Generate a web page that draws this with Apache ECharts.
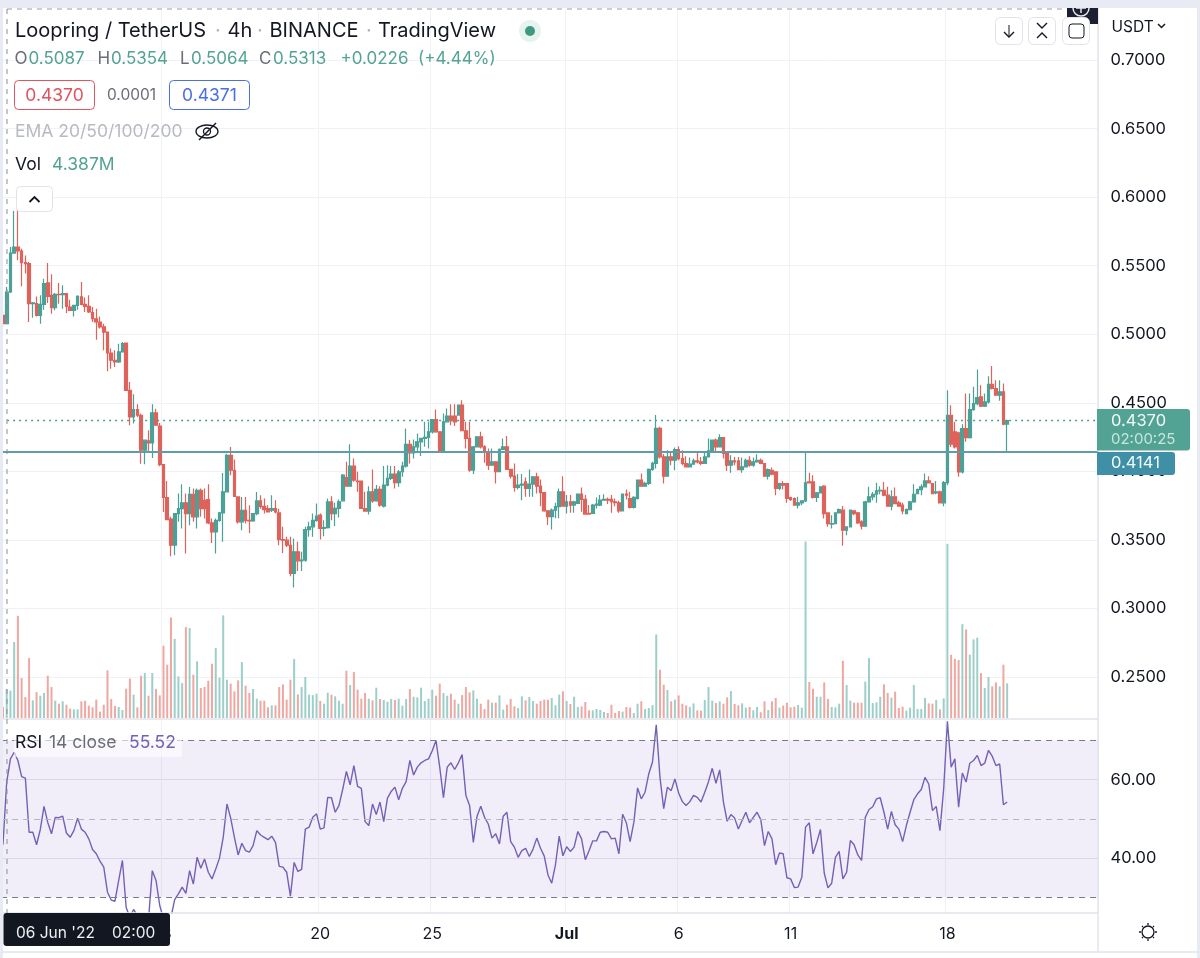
<!DOCTYPE html>
<html>
<head>
<meta charset="utf-8">
<title>Loopring / TetherUS</title>
<style>
  html, body { margin: 0; padding: 0; background: #fff; }
  #chart { width: 1200px; height: 958px; }
</style>
<script src="https://cdn.jsdelivr.net/npm/echarts@6/dist/echarts.min.js"></script>
</head>
<body>
<div id="chart"></div>
<script>
// 4h candles
const opens = [
  .5138,.5077,.5308,.5592,.5636,.5607,.5522,.5515,.5223,.5223,
  .5138,.5218,.5374,.5284,.5194,.5291,.5288,.5296,.5198,.5174,
  .5211,.5272,.5218,.5203,.5157,.5113,.5089,.5053,.5016,.4863,
  .4810,.4798,.4871,.4936,.4591,.4397,.4450,.4409,.4154,.4222,
  .4207,.4426,.4329,.4049,.3809,.3652,.3461,.3692,.3728,.3770,
  .3692,.3833,.3668,.3862,.3789,.3794,.3624,.3558,.3643,.3697,
  .3850,.4117,.4008,.3813,.3632,.3716,.3643,.3638,.3692,.3784,
  .3745,.3728,.3716,.3728,.3697,.3502,.3498,.3461,.3255,.3413,
  .3347,.3352,.3575,.3595,.3643,.3680,.3583,.3590,.3777,.3692,
  .3730,.3785,.3955,.3892,.4038,.3929,.3929,.3729,.3710,.3851,
  .3785,.3868,.3746,.3900,.3948,.3980,.3917,.3997,.4038,.4196,
  .4135,.4179,.4215,.4240,.4247,.4288,.4378,.4288,.4147,.4361,
  .4403,.4403,.4410,.4483,.4296,.4240,.4009,.4179,.4252,.4179,
  .4135,.4045,.4070,.3997,.4160,.4179,.4014,.3965,.3883,.3900,
  .3924,.3875,.3907,.3960,.3892,.3844,.3712,.3669,.3717,.3742,
  .3851,.3746,.3778,.3754,.3766,.3834,.3795,.3693,.3693,.3754,
  .3754,.3790,.3795,.3795,.3778,.3771,.3712,.3834,.3802,.3737,
  .3802,.3936,.3892,.3912,.4014,.4058,.4313,.4106,.3965,.4105,
  .4081,.4159,.4093,.4057,.4033,.4052,.4076,.4069,.4057,.4105,
  .4149,.4227,.4178,.4246,.4130,.4045,.4076,.4076,.4013,.4033,
  .4081,.4045,.4069,.4081,.4057,.3965,.4008,.3996,.3875,.3911,
  .3911,.3809,.3802,.3753,.3770,.3785,.3923,.3923,.3809,.3843,
  .3892,.3697,.3615,.3619,.3697,.3717,.3571,.3595,.3712,.3697,
  .3632,.3600,.3777,.3814,.3833,.3858,.3862,.3826,.3746,.3814,
  .3770,.3753,.3692,.3721,.3777,.3838,.3867,.3887,.3930,.3911,
  .3843,.3850,.3770,.3918,.4409,.4288,.4280,.3996,.4312,.4246,
  .4450,.4494,.4543,.4475,.4506,.4635,.4604,.4555,.4579,.4344
];
const closes = [
  .5077,.5308,.5592,.5636,.5607,.5522,.5515,.5223,.5228,.5138,
  .5218,.5369,.5276,.5194,.5291,.5288,.5296,.5203,.5174,.5211,
  .5276,.5218,.5203,.5162,.5113,.5089,.5053,.5016,.4863,.4810,
  .4798,.4871,.4931,.4591,.4397,.4450,.4409,.4154,.4227,.4207,
  .4426,.4336,.4049,.3809,.3648,.3461,.3692,.3728,.3770,.3692,
  .3833,.3668,.3862,.3728,.3728,.3624,.3558,.3643,.3697,.3850,
  .4117,.4008,.3818,.3632,.3716,.3643,.3638,.3692,.3784,.3745,
  .3721,.3704,.3728,.3704,.3502,.3498,.3461,.3255,.3413,.3347,
  .3352,.3575,.3595,.3643,.3673,.3583,.3590,.3777,.3692,.3730,
  .3778,.3972,.3892,.4038,.3936,.3925,.3729,.3710,.3851,.3785,
  .3868,.3754,.3900,.3948,.3980,.3917,.3997,.4038,.4196,.4135,
  .4179,.4215,.4240,.4247,.4288,.4378,.4288,.4147,.4361,.4403,
  .4369,.4361,.4483,.4296,.4240,.4009,.4179,.4252,.4179,.4143,
  .4045,.4070,.3997,.4160,.4179,.4014,.3965,.3883,.3900,.3907,
  .3875,.3907,.3960,.3892,.3844,.3712,.3669,.3717,.3742,.3851,
  .3746,.3778,.3754,.3778,.3834,.3795,.3688,.3688,.3754,.3761,
  .3790,.3795,.3790,.3778,.3771,.3712,.3834,.3827,.3737,.3810,
  .3936,.3892,.3912,.4014,.4058,.4313,.4106,.3965,.4105,.4081,
  .4159,.4093,.4057,.4033,.4052,.4076,.4069,.4057,.4105,.4149,
  .4227,.4178,.4246,.4130,.4045,.4076,.4069,.4013,.4033,.4081,
  .4045,.4069,.4081,.4057,.3965,.4013,.3979,.3875,.3911,.3899,
  .3802,.3794,.3753,.3770,.3785,.3916,.3916,.3809,.3843,.3887,
  .3692,.3619,.3619,.3697,.3721,.3571,.3595,.3717,.3692,.3624,
  .3600,.3777,.3814,.3833,.3858,.3862,.3826,.3746,.3814,.3765,
  .3746,.3712,.3721,.3777,.3833,.3867,.3887,.3930,.3916,.3838,
  .3850,.3770,.3918,.4409,.4198,.4178,.3996,.4312,.4246,.4450,
  .4494,.4538,.4475,.4506,.4635,.4604,.4555,.4579,.4344,.4370
];
const lows = [
  .5053,.5070,.5300,.5590,.5539,.5349,.5442,.5089,.5121,.5130,
  .5077,.5179,.5228,.5150,.5174,.5223,.5186,.5155,.5170,.5130,
  .5179,.5211,.5162,.5155,.5089,.4960,.5041,.4883,.4730,.4749,
  .4761,.4790,.4871,.4586,.4336,.4348,.4397,.4056,.4052,.4142,
  .4098,.4336,.4037,.3704,.3643,.3381,.3388,.3632,.3583,.3400,
  .3607,.3632,.3583,.3668,.3656,.3614,.3478,.3400,.3632,.3486,
  .3850,.3971,.3813,.3619,.3571,.3619,.3551,.3632,.3680,.3728,
  .3692,.3704,.3704,.3692,.3461,.3405,.3449,.3235,.3153,.3274,
  .3274,.3340,.3522,.3522,.3632,.3502,.3527,.3583,.3643,.3601,
  .3664,.3785,.3887,.3892,.3924,.3851,.3729,.3710,.3686,.3771,
  .3778,.3742,.3737,.3892,.3936,.3875,.3887,.3960,.4028,.4058,
  .4094,.4143,.4111,.4179,.4167,.4276,.4281,.4143,.4147,.4361,
  .4337,.4330,.4410,.4296,.4167,.3997,.3980,.4179,.4167,.4062,
  .4009,.4045,.3912,.3997,.4160,.4009,.3948,.3851,.3868,.3790,
  .3815,.3815,.3815,.3839,.3746,.3705,.3608,.3576,.3657,.3657,
  .3742,.3693,.3698,.3698,.3761,.3705,.3688,.3686,.3688,.3729,
  .3746,.3785,.3761,.3698,.3746,.3698,.3712,.3795,.3729,.3729,
  .3795,.3887,.3887,.3900,.4004,.4021,.4094,.3912,.3960,.4045,
  .4008,.4081,.4045,.4028,.4028,.4052,.4057,.4045,.4057,.4105,
  .4149,.4142,.4173,.4093,.4003,.3989,.4045,.4008,.3989,.4028,
  .4033,.4033,.4062,.4052,.3960,.3940,.3972,.3826,.3862,.3867,
  .3770,.3785,.3753,.3729,.3753,.3777,.3911,.3802,.3777,.3838,
  .3656,.3595,.3583,.3619,.3692,.3457,.3534,.3595,.3680,.3615,
  .3576,.3600,.3770,.3790,.3770,.3833,.3819,.3741,.3717,.3760,
  .3741,.3687,.3687,.3717,.3770,.3833,.3826,.3882,.3911,.3833,
  .3833,.3765,.3746,.3899,.4178,.4166,.3960,.3984,.4215,.4239,
  .4441,.4482,.4470,.4470,.4494,.4596,.4555,.4514,.4336,.4141
];
const highs = [
  .5170,.5344,.5636,.5898,.5988,.5624,.5575,.5527,.5235,.5276,
  .5284,.5405,.5519,.5437,.5301,.5374,.5357,.5301,.5252,.5211,
  .5284,.5381,.5267,.5284,.5198,.5186,.5130,.5077,.5016,.4895,
  .4883,.4931,.4943,.4936,.4652,.4562,.4489,.4421,.4227,.4300,
  .4489,.4457,.4353,.4049,.3930,.3668,.3692,.3838,.3906,.3838,
  .3886,.3874,.3874,.3874,.3874,.3906,.3656,.3656,.3704,.3988,
  .4129,.4178,.4086,.3813,.3813,.3813,.3753,.3692,.3850,.3825,
  .3801,.3753,.3825,.3789,.3728,.3595,.3522,.3522,.3510,.3486,
  .3413,.3595,.3632,.3692,.3765,.3692,.3643,.3801,.3818,.3770,
  .3795,.3980,.4070,.4198,.4094,.3997,.3929,.3851,.3892,.4014,
  .3900,.3892,.4038,.4045,.4038,.4038,.4009,.4070,.4313,.4228,
  .4232,.4276,.4240,.4361,.4361,.4378,.4451,.4288,.4422,.4458,
  .4490,.4490,.4483,.4519,.4361,.4361,.4184,.4252,.4288,.4191,
  .4167,.4167,.4070,.4167,.4240,.4257,.4014,.4058,.3980,.3980,
  .3955,.4014,.3960,.3989,.3941,.3844,.3712,.3729,.3771,.3875,
  .3965,.3827,.3827,.3785,.3839,.3883,.3827,.3754,.3761,.3810,
  .3827,.3832,.3810,.3827,.3802,.3785,.3839,.3868,.3851,.3819,
  .3941,.3985,.3924,.4021,.4070,.4410,.4325,.4126,.4154,.4142,
  .4173,.4183,.4154,.4110,.4101,.4093,.4135,.4105,.4135,.4239,
  .4232,.4239,.4271,.4246,.4130,.4118,.4105,.4105,.4101,.4093,
  .4110,.4101,.4125,.4093,.4057,.4020,.4028,.3996,.3916,.3930,
  .3911,.3814,.3809,.3814,.3790,.4142,.3989,.3972,.3850,.3892,
  .3899,.3697,.3680,.3697,.3729,.3748,.3595,.3717,.3717,.3704,
  .3644,.3785,.3887,.3850,.3916,.3892,.3923,.3887,.3862,.3882,
  .3785,.3770,.3729,.3785,.3906,.3875,.3906,.3984,.3965,.3911,
  .3930,.3858,.3930,.4591,.4482,.4361,.4288,.4344,.4567,.4567,
  .4616,.4742,.4628,.4567,.4693,.4769,.4664,.4664,.4640,.4378
];
// volume in millions
const volumes = [
  1.39,3.66,3.45,9.60,12.92,5.05,2.65,7.58,2.23,3.28,
  2.82,3.16,5.35,3.92,2.19,1.81,2.11,1.68,1.18,1.09,
  1.09,2.11,2.19,1.56,1.35,2.32,.80,1.68,6.02,2.40,
  1.52,1.39,1.01,3.70,4.97,2.95,1.35,5.35,5.68,2.82,
  5.68,3.66,2.86,9.14,6.74,12.71,10.02,5.26,4.42,11.49,
  11.37,5.47,7.16,3.79,3.92,4.72,6.86,8.84,5.09,12.97,
  4.84,4.34,3.37,4.76,7.07,4.08,3.16,3.66,2.44,2.19,
  2.19,1.35,1.60,1.60,3.92,4.25,2.32,4.84,7.45,2.99,
  3.92,5.18,2.95,2.90,3.07,2.15,1.81,3.20,2.95,2.74,
  2.19,1.81,5.98,4.17,5.81,3.58,2.44,3.16,2.44,2.23,
  3.83,2.40,2.27,2.06,2.40,2.27,2.44,1.56,2.40,3.66,
  2.69,2.61,3.83,2.15,2.44,3.58,2.82,4.34,3.16,2.82,
  3.07,2.32,1.81,2.90,3.92,3.24,3.49,2.44,1.81,1.14,
  2.32,1.94,1.94,2.86,1.05,1.68,2.40,1.47,1.26,2.74,
  2.23,2.65,2.15,1.81,2.15,2.32,2.32,2.53,1.60,2.95,
  3.37,2.15,1.77,2.69,1.39,1.47,2.02,.97,.97,1.14,
  1.01,.76,.63,1.68,.63,.88,.80,1.39,1.31,.63,
  1.81,2.11,1.14,1.26,1.64,10.57,6.10,4.21,3.54,2.11,
  2.32,2.86,1.81,1.60,1.39,1.85,.97,.93,2.27,3.92,
  2.19,1.89,2.11,1.81,2.61,3.41,1.77,1.60,1.85,1.31,
  1.39,.97,1.39,.72,2.11,1.01,2.11,2.53,1.31,1.56,
  1.94,1.35,1.43,1.64,1.31,22.31,4.55,3.70,2.69,2.69,
  4.50,2.40,1.39,1.35,1.81,7.24,4.17,2.19,1.94,1.94,
  1.94,4.59,7.58,1.89,1.98,2.69,4.25,3.16,2.57,3.33,
  1.26,1.43,.93,1.31,4.17,1.14,1.14,2.53,1.85,1.81,
  2.27,1.09,2.48,22.02,8.00,7.49,7.33,11.87,11.20,8.00,
  9.94,10.15,5.68,3.79,5.18,4.00,4.50,4.00,6.74,4.387
];
const rsiValues = [
  43.4,59.4,65.3,67.0,64.9,60.8,60.4,46.6,46.6,43.4,
  47.3,53.2,49.1,46.2,50.4,50.3,50.7,46.4,45.3,47.0,
  50.2,47.4,46.6,44.9,42.2,41.1,39.2,37.7,31.3,29.3,
  29.0,34.3,39.4,27.4,24.9,26.9,25.3,21.9,23.2,24.5,
  36.8,34.3,27.9,24.5,21.9,24.9,29.4,30.9,32.6,31.0,
  36.8,33.4,40.2,37.4,39.8,36.4,34.7,37.2,40.0,45.3,
  53.8,50.2,45.3,40.8,43.8,41.9,41.5,43.2,47.0,45.9,
  45.3,44.7,45.6,44.0,37.9,37.7,36.4,30.3,38.9,36.6,
  37.1,47.4,47.9,50.4,51.3,47.4,47.7,55.5,55.4,51.7,
  53.4,57.5,62.1,58.7,63.6,58.3,57.8,49.3,48.3,53.8,
  51.1,54.3,49.3,55.3,57.0,58.1,54.9,57.8,59.5,64.9,
  61.2,63.2,64.3,64.9,65.3,67.4,70.0,63.2,55.4,63.2,
  64.3,62.6,64.3,66.4,56.0,53.4,44.0,50.7,53.2,50.4,
  48.7,45.1,46.2,43.6,50.7,51.7,44.2,42.8,40.2,41.9,
  42.5,40.4,42.3,45.1,42.5,40.5,35.7,33.6,38.3,45.6,
  40.6,42.9,41.7,42.8,46.8,44.9,39.6,41.9,44.4,44.4,
  46.6,46.8,46.6,44.9,45.1,41.1,51.2,49.0,44.2,49.1,
  57.9,55.1,56.8,61.5,64.5,74.0,60.6,52.6,58.1,57.2,
  60.2,56.6,54.4,53.4,54.4,56.0,55.5,54.3,56.8,59.5,
  62.9,59.1,62.5,54.3,49.4,51.1,50.2,47.4,49.6,51.7,
  49.0,50.4,51.7,49.8,43.2,46.8,44.9,38.3,41.3,41.1,
  35.0,34.7,32.5,32.6,35.1,47.9,49.0,41.1,44.0,47.3,
  36.2,32.4,33.6,40.2,41.7,34.7,36.4,44.5,43.4,40.8,
  39.4,50.4,52.4,53.1,55.1,55.4,51.7,47.4,51.9,48.5,
  47.4,44.2,48.3,51.7,54.9,56.4,57.5,60.6,58.9,52.1,
  53.2,47.0,57.7,74.9,63.2,65.3,53.0,61.7,59.4,64.2,
  64.9,66.2,63.6,64.2,67.5,66.0,63.6,64.0,53.6,54.3
];
const tickIndexes = [43, 85, 115, 151, 181, 211, 253];
const tickLabels = ["13", "20", "25", "Jul", "6", "11", "18"];
const priceTicks = { min: 0.25, max: 0.70, interval: 0.05 };
const rsiTicks = [40, 60];
const lastPrice = 0.4370;
const linePrice = 0.4141;
const EMPTY_BARS = 24; // blank room right of the last candle

const UP = "#4ca197", DOWN = "#df625b", UP_VOL = "#9ccfc9", DOWN_VOL = "#eea7a1";
const INK = "#131722", GREY = "#6a6d78", GRID = "#f0f2f7", PURPLE = "#7460b5", EDGE = "#e0e3eb";
const FONT = "Inter, sans-serif";

const candles = opens.map((o, i) => [o, closes[i], lows[i], highs[i]]);
const categories = [...opens.keys(), ...Array.from({ length: EMPTY_BARS }, (_, i) => opens.length + i)].map(String);
const volumeBars = volumes.map((v, i) => ({
  value: v,
  itemStyle: { color: closes[i] >= opens[i] ? UP_VOL : DOWN_VOL }
}));

const chart = echarts.init(document.querySelector("#chart"), null, { renderer: "canvas" });
const left = 1.1, right = 101.4;
const isTick = index => tickIndexes.includes(index);

const gridLineX = { show: true, interval: isTick, lineStyle: { color: GRID, width: 1 } };

chart.setOption({
  animation: false,
  backgroundColor: "#fff",
  grid: [
    { left, right, top: 60, height: 617 },     // price, 0.70 down to 0.25
    { left, right, top: 10, height: 708 },     // volume, shares the upper pane
    { left, right, top: 719.3, height: 193.7 } // RSI
  ],
  xAxis: [
    { type: "category", gridIndex: 0, data: categories, show: false },
    { type: "category", gridIndex: 1, data: categories, axisLine: { show: false }, axisTick: { show: false }, axisLabel: { show: false }, splitLine: gridLineX },
    {
      type: "category", gridIndex: 2, data: categories,
      axisLine: { show: false }, axisTick: { show: false }, splitLine: gridLineX,
      axisLabel: {
        interval: isTick, margin: 13, fontFamily: FONT, fontSize: 16, color: INK, hideOverlap: false,
        formatter: v => {
          const label = tickLabels[tickIndexes.indexOf(Number(v))];
          return label === "Jul" ? `{b|${label}}` : label;
        },
        rich: { b: { fontFamily: FONT, fontSize: 16, fontWeight: 700, color: INK } }
      }
    }
  ],
  yAxis: [
    {
      type: "value", gridIndex: 0, position: "right", ...priceTicks, scale: true,
      axisLine: { show: false }, axisTick: { show: false },
      splitLine: { lineStyle: { color: GRID, width: 1 } },
      axisLabel: { margin: 12, fontFamily: FONT, fontSize: 16.5, color: INK, formatter: v => v.toFixed(4) }
    },
    { type: "value", gridIndex: 1, min: 0, max: 89.5, show: false },
    {
      type: "value", gridIndex: 2, position: "right", min: 26, max: 75.4,
      axisLine: { show: false },
      axisTick: { show: false, customValues: rsiTicks },
      splitLine: { lineStyle: { color: "#e6e3f0", width: 1 } },
      axisLabel: { customValues: rsiTicks, margin: 12, fontFamily: FONT, fontSize: 16.5, color: INK, formatter: v => v.toFixed(2) }
    }
  ],
  series: [
    { type: "bar", name: "Vol", xAxisIndex: 1, yAxisIndex: 1, barWidth: 2, data: volumeBars, silent: true },
    {
      type: "candlestick", name: "LRCUSDT", xAxisIndex: 0, yAxisIndex: 0, barWidth: 3.2, data: candles, clip: false,
      itemStyle: { color: UP, color0: DOWN, borderColor: UP, borderColor0: DOWN, borderWidth: 1.2 },
      markLine: {
        silent: true, symbol: "none", animation: false, precision: 4, label: { show: false },
        data: [
          { yAxis: lastPrice, lineStyle: { color: "#4f9f96", type: [2, 4], width: 1.3 } },
          { yAxis: linePrice, lineStyle: { color: "#5f9da8", type: "solid", width: 2 } }
        ]
      }
    },
    {
      type: "line", name: "RSI", xAxisIndex: 2, yAxisIndex: 2, data: rsiValues, showSymbol: false, silent: true,
      lineStyle: { color: PURPLE, width: 1.4 },
      markArea: {
        silent: true, animation: false, itemStyle: { color: "rgba(126,87,194,0.1)" },
        data: [[{ yAxis: 30 }, { yAxis: 70 }]]
      },
      markLine: {
        silent: true, symbol: "none", animation: false, label: { show: false },
        data: [
          { yAxis: 70, lineStyle: { color: "#787b86", type: [6, 5], width: 1 } },
          { yAxis: 50, lineStyle: { color: "#b6b6c0", type: [6, 5], width: 1 } },
          { yAxis: 30, lineStyle: { color: "#787b86", type: [6, 5], width: 1 } }
        ]
      }
    }
  ]
});

// small helpers for the toolbar and header chrome
const box = (x, y, width, height, fill, stroke, r = 0) => ({
  type: "rect", shape: { x, y, width, height, r }, style: { fill, stroke, lineWidth: 1 }
});
const label = (x, y, text, font, fill, align = "left") => ({
  type: "text", x, y, style: { text, font: `${font} ${FONT}`, fill, align, verticalAlign: "middle" }
});
const seg = (x1, y1, x2, y2, stroke, lineWidth = 1, lineDash) => ({
  type: "line", shape: { x1, y1, x2, y2 }, style: { stroke, lineWidth, lineDash }
});
const poly = (points, stroke, lineWidth = 1.4) => ({
  type: "polyline", shape: { points }, style: { stroke, lineWidth, fill: null }
});
const ring = (cx, cy, r, fill, stroke, lineWidth = 1.4) => ({
  type: "circle", shape: { cx, cy, r }, style: { fill, stroke, lineWidth }
});

const lastY = chart.convertToPixel({ yAxisIndex: 0 }, lastPrice);
const lineY = chart.convertToPixel({ yAxisIndex: 0 }, linePrice);

const sunRays = [[0, -9, 0, -7], [0, 7, 0, 9], [-9, 0, -7, 0], [7, 0, 9, 0], [-6, -6, -5, -5], [5, -5, 6, -6], [-6, 6, -5, 5], [5, 5, 6, 6]];

const elements = [
  // frame
  seg(1098, 0, 1098, 952, EDGE, 1.4),
  seg(0, 719, 1098, 719, EDGE, 1.4),
  seg(0, 913, 1098, 913, EDGE, 1.4),
  seg(0, 952, 1200, 952, EDGE, 1.6),
  box(1197, 0, 3, 958, "#e8ebf3", null),
  box(0, 0, 3, 958, "#e8ebf3", null),

  // plus button behind the toolbar
  box(1067, 6, 31, 18, "#1c2030", null),
  ring(1081, 8, 8, null, "#e8e8ee", 1.5),
  seg(1081, 3, 1081, 13, "#e8e8ee", 1.5),
  seg(1076, 8, 1086, 8, "#e8e8ee", 1.5),
  box(0, 0, 1200, 8, "#e8ebf3", null),

  // crosshair
  seg(7, 9, 1065, 9, "#9a9da6", 1, [5, 5]),
  seg(7, 9, 7, 913, "#8a8d96", 1, [5, 5]),

  // header
  label(15, 31, "Loopring / TetherUS", "20px", INK),
  label(218, 31, "·", "20px", "#b2b5be", "center"),
  label(227.5, 31, "4h", "20px", INK),
  label(260, 31, "·", "20px", "#b2b5be", "center"),
  label(269.5, 31, "BINANCE", "20px", INK),
  label(369, 31, "·", "20px", "#b2b5be", "center"),
  label(378, 31, "TradingView", "20px", INK),
  ring(530, 31, 11, "#e6f3ef", null, 0),
  ring(530, 31, 5, "#3d9a82", null, 0),

  label(14.5, 59, "O", "17px", GREY),
  label(28.5, 59, "0.5087", "17px", "#53a394"),
  label(97.5, 59, "H", "17px", GREY),
  label(111, 59, "0.5354", "17px", "#53a394"),
  label(180, 59, "L", "17px", GREY),
  label(191, 59, "0.5064", "17px", "#53a394"),
  label(259, 59, "C", "17px", GREY),
  label(273, 59, "0.5313", "17px", "#53a394"),
  label(340.5, 59, "+0.0226", "17px", "#53a394"),
  label(418, 59, "(+4.44%)", "17px", "#53a394"),

  box(14.5, 80.5, 80, 29, "#fff", "#e0545e", 4),
  label(54.5, 95.5, "0.4370", "17.5px", "#e0545e", "center"),
  label(131.5, 95.5, "0.0001", "15.5px", "#6a6d78", "center"),
  box(169.5, 80.5, 80, 29, "#fff", "#4a6fe3", 4),
  label(209.5, 95.5, "0.4371", "17.5px", "#4a6fe3", "center"),

  label(15, 132, "EMA 20/50/100/200", "17.5px", "#b8bac2"),
  { type: "ellipse", shape: { cx: 207, cy: 131.5, rx: 11, ry: 6.5 }, style: { fill: null, stroke: INK, lineWidth: 1.3 } },
  ring(207, 131.5, 3.5, null, INK, 1.3),
  seg(199, 140, 216, 123, INK, 1.4),

  label(15, 165, "Vol", "17.5px", INK),
  label(52, 165, "4.387M", "17.5px", "#53a394"),

  box(16.5, 186.5, 36, 25, "#fff", EDGE, 4),
  poly([[29.5, 202], [34.5, 197], [39.5, 202]], INK, 1.8),

  // top right buttons
  box(995.5, 17.5, 27, 27, "#fff", EDGE, 5),
  seg(1009, 25, 1009, 37, INK),
  poly([[1004, 32], [1009, 37], [1014, 32]], INK),
  box(1028.5, 17.5, 27, 27, "#fff", EDGE, 5),
  poly([[1037, 23], [1042, 28], [1047, 23]], INK),
  poly([[1037, 38], [1042, 33], [1047, 38]], INK),
  box(1062.5, 17.5, 27, 27, "#fff", EDGE, 5),
  box(1069, 24, 15, 14, null, INK, 3),

  label(1111.5, 27, "USDT", "15.5px", INK),
  poly([[1158, 24], [1161.5, 27.5], [1165, 24]], INK, 1.5),

  // price tags on the axis
  box(1097, lastY - 11.5, 93, 41.5, "#53a394", null, [0, 3, 3, 0]),
  label(1111, lastY, "0.4370", "16.5px", "#f2fbf9"),
  label(1111, lastY + 19, "02:00:25", "15px", "#c7e6df"),
  box(1097, lineY, 78, 23, "#3f8fa6", null, [0, 3, 3, 0]),
  label(1111, lineY + 11, "0.4141", "16.5px", "#f2fbf9"),

  // RSI legend
  box(14, 732, 168, 25, "rgba(255,255,255,0.6)", null),
  label(15, 743, "RSI", "17.5px", INK),
  label(49, 743, "14 close", "17.5px", GREY),
  label(129, 743, "55.52", "17.5px", PURPLE),

  // crosshair date
  box(3.5, 913, 166.5, 33, "#131722", null, 3),
  label(16, 933, "06 Jun '22", "15.5px", "#f0f0f3"),
  label(112, 933, "02:00", "15.5px", "#f0f0f3"),

  // settings icon
  ring(1148, 932, 6, null, INK, 1.3),
  ...sunRays.map(([a, b, c, d]) => seg(1148 + a, 932 + b, 1148 + c, 932 + d, INK, 1.3))
];

chart.setOption({ graphic: { elements: elements.map(e => ({ ...e, z: 100, silent: true })) } });
</script>
</body>
</html>
